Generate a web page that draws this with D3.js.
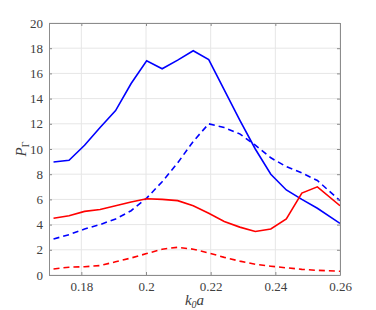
<!DOCTYPE html>
<html>
<head>
<meta charset="utf-8">
<script src="https://cdn.jsdelivr.net/npm/d3@7"></script>
<style>
    body { margin: 0; background: #fff; }
</style>
</head>
<body>
<div id="chart"></div>
<script>

// data
var k0a = [0.1714, 0.1762, 0.181, 0.1858, 0.1906, 0.1954, 0.2002, 0.205, 0.2098, 0.2146,
           0.2194, 0.2242, 0.229, 0.2338, 0.2386, 0.2434, 0.2482, 0.253, 0.26];
var blueSolid  = [8.97, 9.1, 10.3, 11.7, 13.05, 15.2, 17.0, 16.37, 17.05, 17.8,
                  17.1, 14.7, 12.3, 10.0, 8.0, 6.75, 6.0, 5.3, 4.1];
var blueDashed = [2.86, 3.2, 3.65, 4.0, 4.45, 5.1, 6.1, 7.4, 8.9, 10.6,
                  12.0, 11.7, 11.2, 10.3, 9.3, 8.6, 8.1, 7.5, 5.9];
var redSolid   = [4.5, 4.7, 5.05, 5.2, 5.5, 5.8, 6.05, 6.0, 5.9, 5.5,
                  4.9, 4.25, 3.8, 3.45, 3.65, 4.45, 6.5, 7.0, 5.5];
var redDashed  = [0.48, 0.62, 0.66, 0.75, 1.05, 1.35, 1.7, 2.05, 2.2, 2.05,
                  1.75, 1.4, 1.1, 0.85, 0.7, 0.57, 0.45, 0.37, 0.3];

var xTicks = [0.18, 0.2, 0.22, 0.24, 0.26];
var yTicks = [0, 2, 4, 6, 8, 10, 12, 14, 16, 18, 20];

var series = [
    {values: blueSolid,  color: "#0000ff", dash: null},
    {values: blueDashed, color: "#0000ff", dash: "6,4"},
    {values: redSolid,   color: "#ff0000", dash: null},
    {values: redDashed,  color: "#ff0000", dash: "6,4"}
];

var serif = "'Liberation Serif'";

// drawing area
var margin = {top: 23, right: 36, bottom: 35, left: 49};
var width = 376 - margin.left - margin.right,
    height = 310 - margin.top - margin.bottom;

var svg = d3.select("#chart").append("svg")
    .attr("width", 376)
    .attr("height", 310)
    .append("g")
    .attr("transform", "translate(" + margin.left + "," + margin.top + ")");

var x = d3.scaleLinear().domain([0.17, 0.26]).range([0, width]);
var y = d3.scaleLinear().domain([0, 20]).range([height, 0]);

// grid
svg.append("g").selectAll("line")
    .data(xTicks)
    .enter().append("line")
    .attr("x1", function(d) { return x(d); })
    .attr("x2", function(d) { return x(d); })
    .attr("y1", 0).attr("y2", height)
    .attr("stroke", "#e6e6e6");
svg.append("g").selectAll("line")
    .data(yTicks)
    .enter().append("line")
    .attr("y1", function(d) { return y(d); })
    .attr("y2", function(d) { return y(d); })
    .attr("x1", 0).attr("x2", width)
    .attr("stroke", "#e6e6e6");

// lines
svg.append("clipPath").attr("id", "clip")
    .append("rect").attr("width", width).attr("height", height);

var line = d3.line()
    .x(function(d, i) { return x(k0a[i]); })
    .y(function(d) { return y(d); });

svg.append("g").attr("clip-path", "url(#clip)")
    .selectAll("path")
    .data(series)
    .enter().append("path")
    .attr("d", function(s) { return line(s.values); })
    .attr("fill", "none")
    .attr("stroke", function(s) { return s.color; })
    .attr("stroke-width", 1.6)
    .attr("stroke-dasharray", function(s) { return s.dash; });

// axes (matlab style, ticks inside, box)
var axisColor = "#8c8c8c";
function styleAxis(g) {
    g.select(".domain").attr("stroke", axisColor);
    g.selectAll(".tick line").attr("stroke", axisColor);
    g.selectAll(".tick text")
        .attr("fill", "#404040")
        .style("font-family", serif)
        .style("font-size", "13px");
}

svg.append("g")
    .attr("transform", "translate(0," + height + ")")
    .call(d3.axisBottom(x).tickValues(xTicks).tickFormat(d3.format("")).tickSizeInner(-3).tickSizeOuter(0).tickPadding(7))
    .call(styleAxis);
svg.append("g")
    .call(d3.axisLeft(y).tickValues(yTicks).tickSizeInner(-3).tickSizeOuter(0).tickPadding(6))
    .call(styleAxis);
svg.append("g")
    .call(d3.axisTop(x).tickValues(xTicks).tickFormat("").tickSizeInner(-3).tickSizeOuter(0))
    .call(styleAxis);
svg.append("g")
    .attr("transform", "translate(" + width + ",0)")
    .call(d3.axisRight(y).tickValues(yTicks).tickFormat("").tickSizeInner(-3).tickSizeOuter(0))
    .call(styleAxis);

// axis labels
var xl = svg.append("text")
    .attr("x", width / 2)
    .attr("y", height + 30)
    .attr("text-anchor", "middle")
    .attr("fill", "#404040")
    .style("font-family", serif)
    .style("font-size", "15px")
    .style("font-style", "italic");
xl.append("tspan").text("k");
xl.append("tspan").attr("dy", 3).style("font-size", "10px").text("0");
xl.append("tspan").attr("dy", -3).text("a");

var yl = svg.append("text")
    .attr("transform", "translate(-23," + (height / 2) + ") rotate(-90)")
    .attr("text-anchor", "middle")
    .attr("fill", "#404040")
    .style("font-family", serif)
    .style("font-size", "15px")
    .style("font-style", "italic");
yl.append("tspan").text("P");
yl.append("tspan").attr("dy", 3).style("font-size", "10px").style("font-style", "normal").text("Γ");

</script>
</body>
</html>
